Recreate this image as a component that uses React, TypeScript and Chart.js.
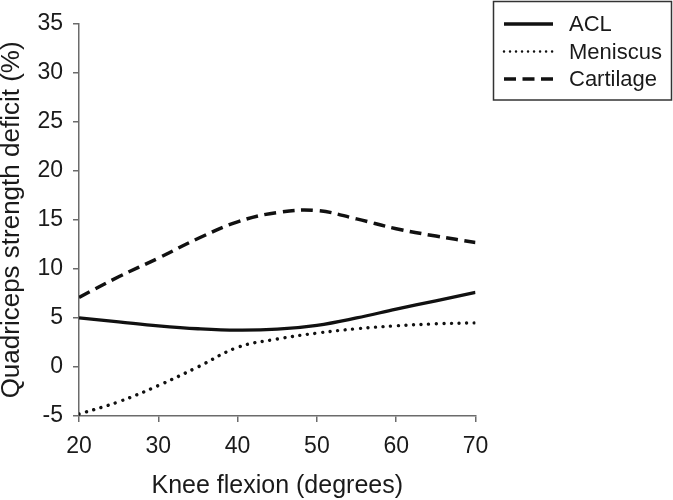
import React, { useEffect, useRef } from 'react';
import { Chart, registerables } from 'chart.js';

Chart.register(...registerables);

const angles = [20, 25, 30, 35, 40, 45, 50, 55, 60, 65, 70];
const aclValues = [5.0, 4.6, 4.2, 3.9, 3.75, 3.85, 4.25, 5.0, 5.9, 6.75, 7.6];
const meniscusValues = [-4.8, -3.55, -1.9, 0.0, 2.0, 2.85, 3.45, 3.9, 4.2, 4.4, 4.5];
const cartilageValues = [7.1, 9.2, 11.1, 13.1, 14.8, 15.75, 15.95, 15.1, 14.1, 13.35, 12.7];
const seriesLabels = ['ACL', 'Meniscus', 'Cartilage'];

const FONT = 'Arial, "Liberation Sans", sans-serif';
const AXIS = '#6b6b6b';

const toPoints = (ys: number[]) => angles.map((x, i) => ({ x, y: ys[i] }));

// boxed legend drawn in the top right corner
const boxLegend = {
  id: 'boxLegend',
  afterDraw(chart: any) {
    const { ctx } = chart;
    ctx.save();
    ctx.strokeStyle = '#333';
    ctx.lineWidth = 1.5;
    ctx.strokeRect(493.5, 1.5, 178, 98.5);
    ctx.font = `22px ${FONT}`;
    ctx.textBaseline = 'middle';
    chart.data.datasets.forEach((ds: any, i: number) => {
      const y = 24 + i * 27.5;
      ctx.beginPath();
      ctx.strokeStyle = ds.borderColor;
      ctx.lineWidth = i === 1 ? 2.5 : ds.borderWidth;
      ctx.lineCap = ds.borderCapStyle || 'butt';
      ctx.setLineDash(i === 1 ? [0.01, 6] : ds.borderDash || []);
      ctx.moveTo(504, y);
      ctx.lineTo(553, y);
      ctx.stroke();
      ctx.setLineDash([]);
      ctx.fillStyle = '#1a1a1a';
      ctx.fillText(ds.label, 569, y + 1);
    });
    ctx.restore();
  },
};

const App = () => {
  const canvasRef = useRef<HTMLCanvasElement>(null);

  useEffect(() => {
    const chart = new Chart(canvasRef.current!, {
      type: 'line',
      data: {
        datasets: [
          {
            label: seriesLabels[0],
            data: toPoints(aclValues),
            borderColor: '#111',
            borderWidth: 3.3,
            tension: 0.4,
          },
          {
            label: seriesLabels[1],
            data: toPoints(meniscusValues),
            borderColor: '#111',
            borderWidth: 3.4,
            borderDash: [0.01, 7.6],
            borderCapStyle: 'round',
            tension: 0.4,
          },
          {
            label: seriesLabels[2],
            data: toPoints(cartilageValues),
            borderColor: '#111',
            borderWidth: 3.5,
            borderDash: [12, 6.5],
            tension: 0.4,
          },
        ],
      },
      options: {
        animation: false,
        responsive: true,
        maintainAspectRatio: false,
        elements: { point: { radius: 0 } },
        layout: { padding: { left: 0, top: 12, right: 197.5, bottom: 0 } },
        scales: {
          x: {
            type: 'linear',
            min: 20,
            max: 70,
            afterFit: (s: any) => {
              s.height = 84;
            },
            ticks: {
              stepSize: 10,
              color: '#1a1a1a',
              padding: 11,
              font: { family: FONT, size: 23 },
            },
            grid: { drawOnChartArea: false, drawTicks: true, tickLength: 6, color: AXIS, lineWidth: 1.5 },
            border: { color: AXIS, width: 1.5 },
            title: {
              display: true,
              text: 'Knee flexion (degrees)',
              color: '#1a1a1a',
              font: { family: FONT, size: 25, lineHeight: 1.1 },
              padding: 0,
            },
          },
          y: {
            min: -5,
            max: 35,
            afterFit: (s: any) => {
              s.width = 79;
            },
            ticks: {
              stepSize: 5,
              color: '#1a1a1a',
              padding: 10,
              font: { family: FONT, size: 23 },
            },
            grid: { drawOnChartArea: false, drawTicks: true, tickLength: 6, color: AXIS, lineWidth: 1.5 },
            border: { color: AXIS, width: 1.5 },
            title: {
              display: true,
              text: 'Quadriceps strength deficit (%)',
              color: '#1a1a1a',
              font: { family: FONT, size: 26, lineHeight: 0.9 },
              padding: 0,
            },
          },
        },
        plugins: {
          legend: { display: false },
          tooltip: { enabled: false },
        },
      },
      plugins: [boxLegend],
    });

    return () => chart.destroy();
  }, []);

  return (
    <div style={{ position: 'fixed', left: 0, top: 0, width: 673, height: 500, background: '#fff' }}>
      <canvas ref={canvasRef} />
    </div>
  );
};

export default App;
